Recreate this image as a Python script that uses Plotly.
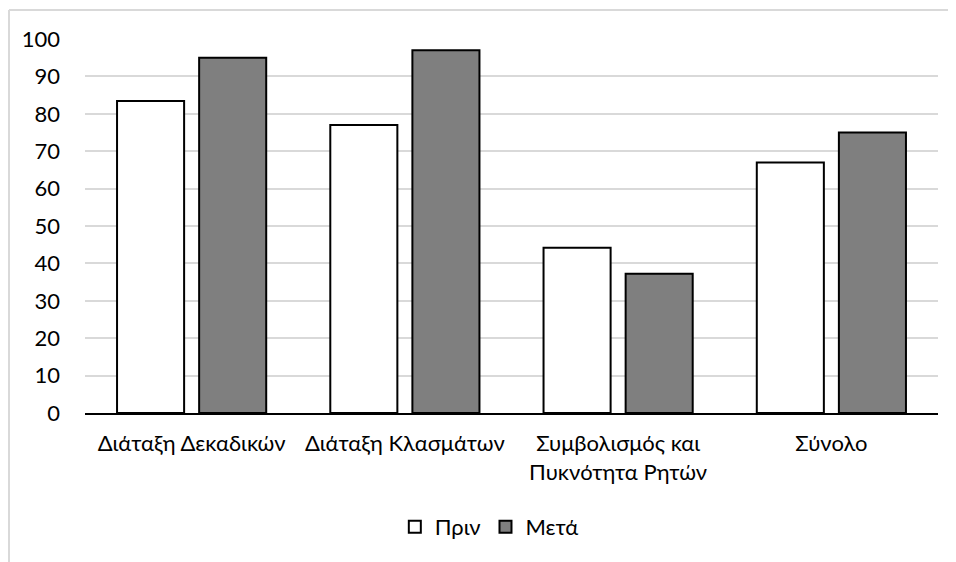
import plotly.graph_objects as go

categories = ["Διάταξη Δεκαδικών", "Διάταξη Κλασμάτων", "Συμβολισμός και<br>Πυκνότητα Ρητών", "Σύνολο"]
before = [83.4, 77, 44.2, 67]
after = [95, 97, 37.2, 75]
series_names = ["Πριν", "Μετά"]
tick_vals = [0, 10, 20, 30, 40, 50, 60, 70, 80, 90, 100]

FONT = "Lato, 'Open Sans', sans-serif"
FS = 22

fig = go.Figure()
fig.add_trace(go.Bar(x=categories, y=before, name=series_names[0],
                     marker=dict(color="#ffffff", line=dict(color="#000000", width=2))))
fig.add_trace(go.Bar(x=categories, y=after, name=series_names[1],
                     marker=dict(color="#7f7f7f", line=dict(color="#000000", width=2))))

# page has an 8px body margin, so the figure is offset by (8, 8)
OFF = 8
W, H = 956 - OFF, 562 - OFF
L, R, T, B = 85 - OFF, 18, 39 - OFF, 149
pw = W - L - R
ph = H - T - B

fig.update_layout(
    width=W, height=H,
    margin=dict(l=L, r=R, t=T, b=B, autoexpand=False),
    paper_bgcolor="white", plot_bgcolor="white",
    barmode="group", bargap=0.23, bargroupgap=0.183,
    font=dict(family=FONT, size=FS, color="#000000"),
    legend=dict(orientation="h", x=0.474, xanchor="center", y=(T + ph - (527 - OFF)) / ph, yanchor="middle",
                font=dict(size=FS), itemsizing="constant", traceorder="normal", itemwidth=30),
    xaxis=dict(showline=True, linecolor="#000000", linewidth=2, ticks="", showgrid=False,
               tickfont=dict(size=FS), automargin=False, ticklabelstandoff=10),
    yaxis=dict(range=[0, 100], tickvals=tick_vals, showgrid=True, gridcolor="#d9d9d9", gridwidth=2,
               zeroline=False, showline=False, ticks="", tickfont=dict(size=FS), ticklabelstandoff=24,
               automargin=False),
    shapes=[
        dict(type="line", xref="paper", yref="paper",
             x0=(9 - 85) / pw, x1=(956 + 5 - 85) / pw, y0=(413 - 10) / ph, y1=(413 - 10) / ph,
             line=dict(color="#d9d9d9", width=2)),
        dict(type="line", xref="paper", yref="paper",
             x0=(9 - 85) / pw, x1=(9 - 85) / pw, y0=(413 - 10) / ph, y1=(413 - 570) / ph,
             line=dict(color="#d9d9d9", width=2)),
    ],
)

fig.write_html("out.html")
